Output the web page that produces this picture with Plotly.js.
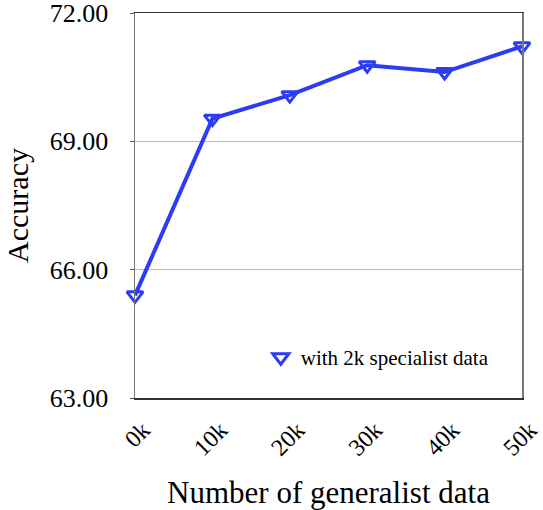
<!DOCTYPE html>
<html><head><meta charset="utf-8">
<script src="https://cdn.plot.ly/plotly-3.0.1.min.js"></script>
<style>html,body{margin:0;padding:0;background:#fff}#c{width:543px;height:510px}</style>
</head><body><div id="c"></div>
<script>
const categories = ["0k","10k","20k","30k","40k","50k"];
const accuracy = [65.40, 69.53, 70.08, 70.78, 70.62, 71.22];
const seriesName = "with 2k specialist data";
const yTicks = [63, 66, 69, 72];
const yTickLabels = ["63.00","66.00","69.00","72.00"];

const font = "Liberation Serif, Times New Roman, serif";
const blue = "#2b3cf4";
Plotly.newPlot("c", [{
  x: categories, y: accuracy, name: seriesName, type: "scatter", mode: "lines+markers",
  line: {color: blue, width: 4},
  marker: {symbol: "triangle-down-open", size: 14, color: blue, line: {width: 3, color: blue}},
  cliponaxis: false, showlegend: false
}, {
  x: [null], y: [null], name: seriesName, type: "scatter", mode: "markers",
  marker: {symbol: "triangle-down-open", size: 14, color: blue, line: {width: 3, color: blue}},
  showlegend: true
}], {
  width: 543, height: 510,
  margin: {l: 135, r: 21, t: 13, b: 112},
  paper_bgcolor: "#fff", plot_bgcolor: "#fff",
  font: {family: font, color: "#000"},
  showlegend: true,
  legend: {x: 0.325, y: 0.105, xanchor: "left", yanchor: "middle", font: {size: 21, family: font}, bgcolor: "rgba(0,0,0,0)"},
  xaxis: {
    type: "category", range: [0, 5], tickangle: -45, automargin: false,
    tickfont: {size: 24, family: font}, ticklabeloverflow: "allow",
    ticklabelshift: 8, ticklabelstandoff: 7,
    showgrid: false, showline: true, linecolor: "#333", linewidth: 1.5, mirror: true,
    ticks: "", ticklen: 0,
    title: {text: "Number of generalist data", font: {size: 31, family: font}, standoff: 23}
  },
  yaxis: {
    range: [63, 72], tickvals: yTicks, ticktext: yTickLabels, automargin: false,
    tickfont: {size: 26, family: font}, ticklabelstandoff: 16, ticklabeloverflow: "allow",
    showgrid: true, gridcolor: "#bbb", gridwidth: 1,
    showline: true, linecolor: "#777", linewidth: 1.5, mirror: true,
    ticks: "outside", ticklen: 4, tickcolor: "#555",
    zeroline: false,
    title: {text: "Accuracy", font: {size: 30, family: font}, standoff: 12}
  }
}, {staticPlot: true});
</script></body></html>
